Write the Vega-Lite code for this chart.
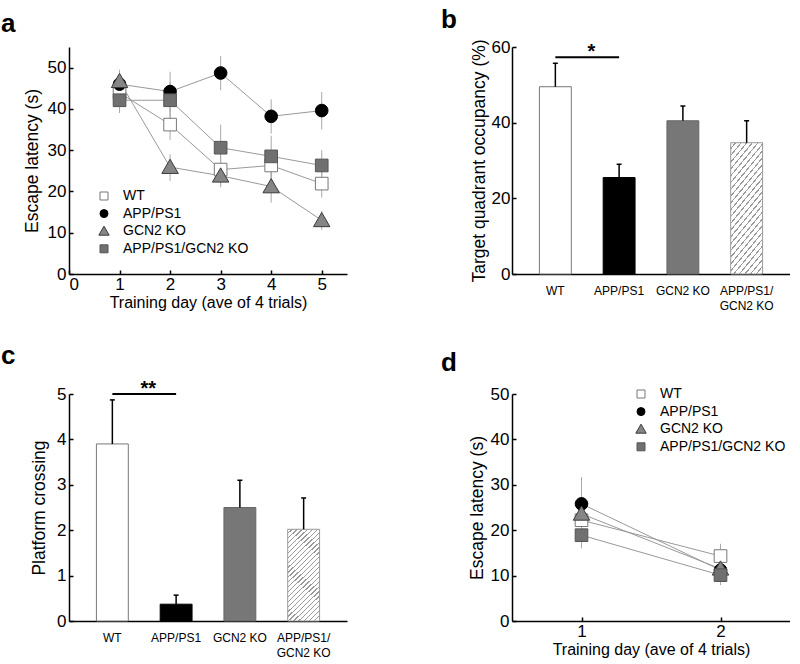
{
  "$schema": "https://vega.github.io/schema/vega-lite/v6.json",
  "padding": {"left": 1, "top": 7, "right": 0, "bottom": 0},
  "background": "white",
  "config": {
    "view": {"stroke": null},
    "font": "Liberation Sans",
    "axis": {"grid": false, "domainColor": "#000", "domainWidth": 1.5, "tickColor": "#000", "tickWidth": 1.5, "labelColor": "#000", "titleColor": "#000", "labelFont": "Liberation Sans", "titleFont": "Liberation Sans", "titleFontWeight": "normal", "labelFontSize": 17},
    "title": {"anchor": "start", "frame": "group", "fontSize": 26, "fontWeight": "bold", "color": "#000", "font": "Liberation Sans", "baseline": "alphabetic"},
    "legend": {"title": null, "labelFontWeight": "normal", "labelFont": "Liberation Sans", "labelFontSize": 14, "labelColor": "#000", "symbolSize": 64, "symbolStrokeWidth": 1, "labelOffset": 12, "rowPadding": 3.6}
  },
  "resolve": {
    "scale": {"fill": "independent", "stroke": "independent", "shape": "independent"},
    "legend": {"fill": "independent", "stroke": "independent", "shape": "independent"}
  },
  "datasets": {
    "lineA": [
      {"group": "WT", "day": 1, "latency": 43.9, "lo": 40.5, "hi": 47},
      {"group": "WT", "day": 2, "latency": 36.2, "lo": 32.5, "hi": 40},
      {"group": "WT", "day": 3, "latency": 25.3, "lo": 21.5, "hi": 29},
      {"group": "WT", "day": 4, "latency": 26.3, "lo": 22.5, "hi": 30},
      {"group": "WT", "day": 5, "latency": 21.9, "lo": 18.5, "hi": 25},
      {"group": "APP/PS1", "day": 1, "latency": 46.0, "lo": 43, "hi": 49},
      {"group": "APP/PS1", "day": 2, "latency": 44.2, "lo": 39.5, "hi": 49},
      {"group": "APP/PS1", "day": 3, "latency": 48.7, "lo": 44.5, "hi": 52.8},
      {"group": "APP/PS1", "day": 4, "latency": 38.2, "lo": 34, "hi": 42.3},
      {"group": "APP/PS1", "day": 5, "latency": 39.6, "lo": 35, "hi": 44.1},
      {"group": "GCN2 KO", "day": 1, "latency": 46.7, "lo": 44, "hi": 49.5},
      {"group": "GCN2 KO", "day": 2, "latency": 25.9, "lo": 22.5, "hi": 29},
      {"group": "GCN2 KO", "day": 3, "latency": 23.8, "lo": 21, "hi": 26.5},
      {"group": "GCN2 KO", "day": 4, "latency": 21.2, "lo": 17.3, "hi": 24.5},
      {"group": "GCN2 KO", "day": 5, "latency": 13.0, "lo": 10.7, "hi": 15.3},
      {"group": "APP/PS1/GCN2 KO", "day": 1, "latency": 42.1, "lo": 39, "hi": 45},
      {"group": "APP/PS1/GCN2 KO", "day": 2, "latency": 42.1, "lo": 37.5, "hi": 46.5},
      {"group": "APP/PS1/GCN2 KO", "day": 3, "latency": 30.6, "lo": 25, "hi": 36.2},
      {"group": "APP/PS1/GCN2 KO", "day": 4, "latency": 28.5, "lo": 23.5, "hi": 33.5},
      {"group": "APP/PS1/GCN2 KO", "day": 5, "latency": 26.3, "lo": 22.5, "hi": 30}
    ],
    "lineD": [
      {"group": "WT", "day": 1, "latency": 22.2, "lo": 18, "hi": 26.5},
      {"group": "WT", "day": 2, "latency": 14.3, "lo": 12, "hi": 17},
      {"group": "APP/PS1", "day": 1, "latency": 25.8, "lo": 20, "hi": 31.7},
      {"group": "APP/PS1", "day": 2, "latency": 11.2, "lo": 8.5, "hi": 14},
      {"group": "GCN2 KO", "day": 1, "latency": 23.6, "lo": 19.5, "hi": 28},
      {"group": "GCN2 KO", "day": 2, "latency": 11.5, "lo": 9, "hi": 14},
      {"group": "APP/PS1/GCN2 KO", "day": 1, "latency": 18.9, "lo": 16, "hi": 22},
      {"group": "APP/PS1/GCN2 KO", "day": 2, "latency": 10.1, "lo": 7.9, "hi": 12.5}
    ],
    "barB": [
      {"group": "WT", "value": 49.5, "hi": 55.7},
      {"group": "APP/PS1", "value": 25.5, "hi": 29.0},
      {"group": "GCN2 KO", "value": 40.5, "hi": 44.4},
      {"group": "APP/PS1/GCN2 KO", "value": 34.7, "hi": 40.5}
    ],
    "barC": [
      {"group": "WT", "value": 3.9, "hi": 4.87},
      {"group": "APP/PS1", "value": 0.37, "hi": 0.57},
      {"group": "GCN2 KO", "value": 2.5, "hi": 3.1},
      {"group": "APP/PS1/GCN2 KO", "value": 2.02, "hi": 2.71}
    ],
    "sigB": [{"from": "WT", "to": "APP/PS1", "y": 57.3, "label": "*"}],
    "sigC": [{"from": "WT", "to": "APP/PS1", "y": 5.0, "label": "**"}]
  },
  "columns": 2,
  "bounds": "flush",
  "spacing": {"row": 120, "column": 165},
  "concat": [
    {
      "width": 278, "height": 227,
      "title": {"text": "a", "dx": -68, "offset": 10},
      "data": {"name": "lineA"},
      "layer": [
        {
          "mark": {"type": "rule", "color": "#aaaaaa", "strokeWidth": 1},
          "encoding": {
            "x": {"field": "day", "type": "quantitative", "scale": {"domain": [0, 5.5], "nice": false},
              "axis": {"values": [0, 1, 2, 3, 4, 5], "format": "d", "tickSize": -4, "labelPadding": 6, "title": "Training day (ave of 4 trials)", "titleFontSize": 16, "titlePadding": 2}},
            "y": {"field": "lo", "type": "quantitative", "scale": {"domain": [0, 55], "nice": false},
              "axis": {"values": [0, 10, 20, 30, 40, 50], "tickSize": -4, "labelPadding": 7, "title": "Escape latency (s)", "titleFontSize": 17.5, "titlePadding": 6}},
            "y2": {"field": "hi"}
          }
        },
        {
          "mark": {"type": "line", "color": "#999999", "strokeWidth": 1},
          "encoding": {
            "x": {"field": "day", "type": "quantitative"},
            "y": {"field": "latency", "type": "quantitative"},
            "detail": {"field": "group"}
          }
        },
        {
          "mark": {"type": "point", "filled": true, "size": 160, "strokeWidth": 1, "opacity": 1},
          "encoding": {
            "x": {"field": "day", "type": "quantitative"},
            "y": {"field": "latency", "type": "quantitative"},
            "shape": {"field": "group", "type": "nominal", "scale": {"domain": ["WT", "APP/PS1", "GCN2 KO", "APP/PS1/GCN2 KO"], "range": ["square", "circle", "M0,-1.25L1.3,1L-1.3,1Z", "square"]},
              "legend": {"orient": "none", "legendX": 28, "legendY": 142}},
            "fill": {"field": "group", "type": "nominal", "scale": {"domain": ["WT", "APP/PS1", "GCN2 KO", "APP/PS1/GCN2 KO"], "range": ["#ffffff", "#000000", "#858585", "#707070"]},
              "legend": {"orient": "none", "legendX": 28, "legendY": 142}},
            "stroke": {"field": "group", "type": "nominal", "scale": {"domain": ["WT", "APP/PS1", "GCN2 KO", "APP/PS1/GCN2 KO"], "range": ["#777777", "#000000", "#3a3a3a", "#555555"]},
              "legend": {"orient": "none", "legendX": 28, "legendY": 142}}
          }
        }
      ]
    },
    {
      "width": 278, "height": 227,
      "title": {"text": "b", "dx": -71, "offset": 5},
      "layer": [
        {
          "data": {"name": "barB"},
          "transform": [{"filter": "datum.group !== 'APP/PS1/GCN2 KO'"}],
          "mark": {"type": "bar", "strokeWidth": 1},
          "encoding": {
            "x": {"field": "group", "type": "nominal", "sort": null, "scale": {"domain": ["WT", "APP/PS1", "GCN2 KO", "APP/PS1/GCN2 KO"], "paddingInner": 0.5, "paddingOuter": 0.43},
              "axis": {"title": null, "ticks": false, "labelAngle": 0, "labelFontSize": 12, "labelBaseline": "middle", "labelPadding": 16, "labelLineHeight": 15, "labelExpr": "datum.value === 'APP/PS1/GCN2 KO' ? ['APP/PS1/', 'GCN2 KO'] : datum.label"}},
            "y": {"field": "value", "type": "quantitative", "scale": {"domain": [0, 60], "nice": false},
              "axis": {"values": [0, 20, 40, 60], "tickSize": -4, "labelPadding": 6, "title": "Target quadrant occupancy (%)", "titleFontSize": 17.5, "titlePadding": 3}},
            "fill": {"field": "group", "type": "nominal", "scale": {"domain": ["WT", "APP/PS1", "GCN2 KO"], "range": ["#ffffff", "#000000", "#777777"]}, "legend": null},
            "stroke": {"field": "group", "type": "nominal", "scale": {"domain": ["WT", "APP/PS1", "GCN2 KO"], "range": ["#777777", "#000000", "#666666"]}, "legend": null}
          }
        },
        {
          "data": {"name": "barB"},
          "transform": [{"filter": "datum.group === 'APP/PS1/GCN2 KO'"}],
          "mark": {"type": "bar", "stroke": "#9a9a9a", "strokeWidth": 1,
            "color": {"gradient": "linear", "x1": 0, "y1": 0, "x2": 0.35, "y2": 1.19, "stops": [
              {"offset": 0, "color": "#ffffff"}, {"offset": 0.03, "color": "#ffffff"}, {"offset": 0.03, "color": "#9a9a9a"}, {"offset": 0.04, "color": "#9a9a9a"},
              {"offset": 0.04, "color": "#ffffff"}, {"offset": 0.07, "color": "#ffffff"}, {"offset": 0.07, "color": "#9a9a9a"}, {"offset": 0.08, "color": "#9a9a9a"},
              {"offset": 0.08, "color": "#ffffff"}, {"offset": 0.11, "color": "#ffffff"}, {"offset": 0.11, "color": "#9a9a9a"}, {"offset": 0.12, "color": "#9a9a9a"},
              {"offset": 0.12, "color": "#ffffff"}, {"offset": 0.15, "color": "#ffffff"}, {"offset": 0.15, "color": "#9a9a9a"}, {"offset": 0.16, "color": "#9a9a9a"},
              {"offset": 0.16, "color": "#ffffff"}, {"offset": 0.19, "color": "#ffffff"}, {"offset": 0.19, "color": "#9a9a9a"}, {"offset": 0.20, "color": "#9a9a9a"},
              {"offset": 0.20, "color": "#ffffff"}, {"offset": 0.23, "color": "#ffffff"}, {"offset": 0.23, "color": "#9a9a9a"}, {"offset": 0.24, "color": "#9a9a9a"},
              {"offset": 0.24, "color": "#ffffff"}, {"offset": 0.27, "color": "#ffffff"}, {"offset": 0.27, "color": "#9a9a9a"}, {"offset": 0.28, "color": "#9a9a9a"},
              {"offset": 0.28, "color": "#ffffff"}, {"offset": 0.31, "color": "#ffffff"}, {"offset": 0.31, "color": "#9a9a9a"}, {"offset": 0.32, "color": "#9a9a9a"},
              {"offset": 0.32, "color": "#ffffff"}, {"offset": 0.35, "color": "#ffffff"}, {"offset": 0.35, "color": "#9a9a9a"}, {"offset": 0.36, "color": "#9a9a9a"},
              {"offset": 0.36, "color": "#ffffff"}, {"offset": 0.39, "color": "#ffffff"}, {"offset": 0.39, "color": "#9a9a9a"}, {"offset": 0.40, "color": "#9a9a9a"},
              {"offset": 0.40, "color": "#ffffff"}, {"offset": 0.43, "color": "#ffffff"}, {"offset": 0.43, "color": "#9a9a9a"}, {"offset": 0.44, "color": "#9a9a9a"},
              {"offset": 0.44, "color": "#ffffff"}, {"offset": 0.47, "color": "#ffffff"}, {"offset": 0.47, "color": "#9a9a9a"}, {"offset": 0.48, "color": "#9a9a9a"},
              {"offset": 0.48, "color": "#ffffff"}, {"offset": 0.51, "color": "#ffffff"}, {"offset": 0.51, "color": "#9a9a9a"}, {"offset": 0.52, "color": "#9a9a9a"},
              {"offset": 0.52, "color": "#ffffff"}, {"offset": 0.55, "color": "#ffffff"}, {"offset": 0.55, "color": "#9a9a9a"}, {"offset": 0.56, "color": "#9a9a9a"},
              {"offset": 0.56, "color": "#ffffff"}, {"offset": 0.59, "color": "#ffffff"}, {"offset": 0.59, "color": "#9a9a9a"}, {"offset": 0.60, "color": "#9a9a9a"},
              {"offset": 0.60, "color": "#ffffff"}, {"offset": 0.63, "color": "#ffffff"}, {"offset": 0.63, "color": "#9a9a9a"}, {"offset": 0.64, "color": "#9a9a9a"},
              {"offset": 0.64, "color": "#ffffff"}, {"offset": 0.67, "color": "#ffffff"}, {"offset": 0.67, "color": "#9a9a9a"}, {"offset": 0.68, "color": "#9a9a9a"},
              {"offset": 0.68, "color": "#ffffff"}, {"offset": 0.71, "color": "#ffffff"}, {"offset": 0.71, "color": "#9a9a9a"}, {"offset": 0.72, "color": "#9a9a9a"},
              {"offset": 0.72, "color": "#ffffff"}, {"offset": 0.75, "color": "#ffffff"}, {"offset": 0.75, "color": "#9a9a9a"}, {"offset": 0.76, "color": "#9a9a9a"},
              {"offset": 0.76, "color": "#ffffff"}, {"offset": 0.79, "color": "#ffffff"}, {"offset": 0.79, "color": "#9a9a9a"}, {"offset": 0.80, "color": "#9a9a9a"},
              {"offset": 0.80, "color": "#ffffff"}, {"offset": 0.83, "color": "#ffffff"}, {"offset": 0.83, "color": "#9a9a9a"}, {"offset": 0.84, "color": "#9a9a9a"},
              {"offset": 0.84, "color": "#ffffff"}, {"offset": 0.87, "color": "#ffffff"}, {"offset": 0.87, "color": "#9a9a9a"}, {"offset": 0.88, "color": "#9a9a9a"},
              {"offset": 0.88, "color": "#ffffff"}, {"offset": 0.91, "color": "#ffffff"}, {"offset": 0.91, "color": "#9a9a9a"}, {"offset": 0.92, "color": "#9a9a9a"},
              {"offset": 0.92, "color": "#ffffff"}, {"offset": 0.95, "color": "#ffffff"}, {"offset": 0.95, "color": "#9a9a9a"}, {"offset": 0.96, "color": "#9a9a9a"},
              {"offset": 0.96, "color": "#ffffff"}, {"offset": 0.99, "color": "#ffffff"}, {"offset": 0.99, "color": "#9a9a9a"}, {"offset": 1, "color": "#9a9a9a"}
            ]}},
          "encoding": {
            "x": {"field": "group", "type": "nominal", "sort": null},
            "y": {"field": "value", "type": "quantitative"}
          }
        },
        {
          "data": {"name": "barB"},
          "mark": {"type": "rule", "color": "#000000", "strokeWidth": 1.5},
          "encoding": {
            "x": {"field": "group", "type": "nominal", "sort": null},
            "y": {"field": "value", "type": "quantitative"},
            "y2": {"field": "hi"}
          }
        },
        {
          "data": {"name": "barB"},
          "mark": {"type": "tick", "color": "#000000", "thickness": 1.5, "size": 5, "opacity": 1},
          "encoding": {
            "x": {"field": "group", "type": "nominal", "sort": null},
            "y": {"field": "hi", "type": "quantitative"}
          }
        },
        {
          "data": {"name": "sigB"},
          "mark": {"type": "rule", "color": "#000000", "strokeWidth": 2},
          "encoding": {
            "x": {"field": "from", "type": "nominal"},
            "x2": {"field": "to"},
            "y": {"field": "y", "type": "quantitative"}
          }
        },
        {
          "data": {"name": "sigB"},
          "mark": {"type": "text", "fontSize": 20, "fontWeight": "bold", "dx": 36, "dy": 1, "baseline": "alphabetic", "color": "#000000"},
          "encoding": {
            "x": {"field": "from", "type": "nominal"},
            "y": {"field": "y", "type": "quantitative"},
            "text": {"field": "label"}
          }
        }
      ]
    },
    {
      "width": 278, "height": 227,
      "title": {"text": "c", "dx": -68, "offset": 10},
      "layer": [
        {
          "data": {"name": "barC"},
          "transform": [{"filter": "datum.group !== 'APP/PS1/GCN2 KO'"}],
          "mark": {"type": "bar", "strokeWidth": 1},
          "encoding": {
            "x": {"field": "group", "type": "nominal", "sort": null, "scale": {"domain": ["WT", "APP/PS1", "GCN2 KO", "APP/PS1/GCN2 KO"], "paddingInner": 0.5, "paddingOuter": 0.43},
              "axis": {"title": null, "ticks": false, "labelAngle": 0, "labelFontSize": 12, "labelBaseline": "middle", "labelPadding": 16, "labelLineHeight": 15, "labelExpr": "datum.value === 'APP/PS1/GCN2 KO' ? ['APP/PS1/', 'GCN2 KO'] : datum.label"}},
            "y": {"field": "value", "type": "quantitative", "scale": {"domain": [0, 5], "nice": false},
              "axis": {"values": [0, 1, 2, 3, 4, 5], "tickSize": -4, "labelPadding": 7, "title": "Platform crossing", "titleFontSize": 17.5, "titlePadding": 8}},
            "fill": {"field": "group", "type": "nominal", "scale": {"domain": ["WT", "APP/PS1", "GCN2 KO"], "range": ["#ffffff", "#000000", "#777777"]}, "legend": null},
            "stroke": {"field": "group", "type": "nominal", "scale": {"domain": ["WT", "APP/PS1", "GCN2 KO"], "range": ["#777777", "#000000", "#666666"]}, "legend": null}
          }
        },
        {
          "data": {"name": "barC"},
          "transform": [{"filter": "datum.group === 'APP/PS1/GCN2 KO'"}],
          "mark": {"type": "bar", "stroke": "#9a9a9a", "strokeWidth": 1,
            "color": {"gradient": "linear", "x1": 0, "y1": 0, "x2": 0.4, "y2": 1.2, "stops": [
              {"offset": 0, "color": "#ffffff"}, {"offset": 0.03, "color": "#ffffff"}, {"offset": 0.03, "color": "#9a9a9a"}, {"offset": 0.04, "color": "#9a9a9a"},
              {"offset": 0.04, "color": "#ffffff"}, {"offset": 0.07, "color": "#ffffff"}, {"offset": 0.07, "color": "#9a9a9a"}, {"offset": 0.08, "color": "#9a9a9a"},
              {"offset": 0.08, "color": "#ffffff"}, {"offset": 0.11, "color": "#ffffff"}, {"offset": 0.11, "color": "#9a9a9a"}, {"offset": 0.12, "color": "#9a9a9a"},
              {"offset": 0.12, "color": "#ffffff"}, {"offset": 0.15, "color": "#ffffff"}, {"offset": 0.15, "color": "#9a9a9a"}, {"offset": 0.16, "color": "#9a9a9a"},
              {"offset": 0.16, "color": "#ffffff"}, {"offset": 0.19, "color": "#ffffff"}, {"offset": 0.19, "color": "#9a9a9a"}, {"offset": 0.20, "color": "#9a9a9a"},
              {"offset": 0.20, "color": "#ffffff"}, {"offset": 0.23, "color": "#ffffff"}, {"offset": 0.23, "color": "#9a9a9a"}, {"offset": 0.24, "color": "#9a9a9a"},
              {"offset": 0.24, "color": "#ffffff"}, {"offset": 0.27, "color": "#ffffff"}, {"offset": 0.27, "color": "#9a9a9a"}, {"offset": 0.28, "color": "#9a9a9a"},
              {"offset": 0.28, "color": "#ffffff"}, {"offset": 0.31, "color": "#ffffff"}, {"offset": 0.31, "color": "#9a9a9a"}, {"offset": 0.32, "color": "#9a9a9a"},
              {"offset": 0.32, "color": "#ffffff"}, {"offset": 0.35, "color": "#ffffff"}, {"offset": 0.35, "color": "#9a9a9a"}, {"offset": 0.36, "color": "#9a9a9a"},
              {"offset": 0.36, "color": "#ffffff"}, {"offset": 0.39, "color": "#ffffff"}, {"offset": 0.39, "color": "#9a9a9a"}, {"offset": 0.40, "color": "#9a9a9a"},
              {"offset": 0.40, "color": "#ffffff"}, {"offset": 0.43, "color": "#ffffff"}, {"offset": 0.43, "color": "#9a9a9a"}, {"offset": 0.44, "color": "#9a9a9a"},
              {"offset": 0.44, "color": "#ffffff"}, {"offset": 0.47, "color": "#ffffff"}, {"offset": 0.47, "color": "#9a9a9a"}, {"offset": 0.48, "color": "#9a9a9a"},
              {"offset": 0.48, "color": "#ffffff"}, {"offset": 0.51, "color": "#ffffff"}, {"offset": 0.51, "color": "#9a9a9a"}, {"offset": 0.52, "color": "#9a9a9a"},
              {"offset": 0.52, "color": "#ffffff"}, {"offset": 0.55, "color": "#ffffff"}, {"offset": 0.55, "color": "#9a9a9a"}, {"offset": 0.56, "color": "#9a9a9a"},
              {"offset": 0.56, "color": "#ffffff"}, {"offset": 0.59, "color": "#ffffff"}, {"offset": 0.59, "color": "#9a9a9a"}, {"offset": 0.60, "color": "#9a9a9a"},
              {"offset": 0.60, "color": "#ffffff"}, {"offset": 0.63, "color": "#ffffff"}, {"offset": 0.63, "color": "#9a9a9a"}, {"offset": 0.64, "color": "#9a9a9a"},
              {"offset": 0.64, "color": "#ffffff"}, {"offset": 0.67, "color": "#ffffff"}, {"offset": 0.67, "color": "#9a9a9a"}, {"offset": 0.68, "color": "#9a9a9a"},
              {"offset": 0.68, "color": "#ffffff"}, {"offset": 0.71, "color": "#ffffff"}, {"offset": 0.71, "color": "#9a9a9a"}, {"offset": 0.72, "color": "#9a9a9a"},
              {"offset": 0.72, "color": "#ffffff"}, {"offset": 0.75, "color": "#ffffff"}, {"offset": 0.75, "color": "#9a9a9a"}, {"offset": 0.76, "color": "#9a9a9a"},
              {"offset": 0.76, "color": "#ffffff"}, {"offset": 0.79, "color": "#ffffff"}, {"offset": 0.79, "color": "#9a9a9a"}, {"offset": 0.80, "color": "#9a9a9a"},
              {"offset": 0.80, "color": "#ffffff"}, {"offset": 0.83, "color": "#ffffff"}, {"offset": 0.83, "color": "#9a9a9a"}, {"offset": 0.84, "color": "#9a9a9a"},
              {"offset": 0.84, "color": "#ffffff"}, {"offset": 0.87, "color": "#ffffff"}, {"offset": 0.87, "color": "#9a9a9a"}, {"offset": 0.88, "color": "#9a9a9a"},
              {"offset": 0.88, "color": "#ffffff"}, {"offset": 0.91, "color": "#ffffff"}, {"offset": 0.91, "color": "#9a9a9a"}, {"offset": 0.92, "color": "#9a9a9a"},
              {"offset": 0.92, "color": "#ffffff"}, {"offset": 0.95, "color": "#ffffff"}, {"offset": 0.95, "color": "#9a9a9a"}, {"offset": 0.96, "color": "#9a9a9a"},
              {"offset": 0.96, "color": "#ffffff"}, {"offset": 0.99, "color": "#ffffff"}, {"offset": 0.99, "color": "#9a9a9a"}, {"offset": 1, "color": "#9a9a9a"}
            ]}},
          "encoding": {
            "x": {"field": "group", "type": "nominal", "sort": null},
            "y": {"field": "value", "type": "quantitative"}
          }
        },
        {
          "data": {"name": "barC"},
          "mark": {"type": "rule", "color": "#000000", "strokeWidth": 1.5},
          "encoding": {
            "x": {"field": "group", "type": "nominal", "sort": null},
            "y": {"field": "value", "type": "quantitative"},
            "y2": {"field": "hi"}
          }
        },
        {
          "data": {"name": "barC"},
          "mark": {"type": "tick", "color": "#000000", "thickness": 1.5, "size": 5, "opacity": 1},
          "encoding": {
            "x": {"field": "group", "type": "nominal", "sort": null},
            "y": {"field": "hi", "type": "quantitative"}
          }
        },
        {
          "data": {"name": "sigC"},
          "mark": {"type": "rule", "color": "#000000", "strokeWidth": 2},
          "encoding": {
            "x": {"field": "from", "type": "nominal"},
            "x2": {"field": "to"},
            "y": {"field": "y", "type": "quantitative"}
          }
        },
        {
          "data": {"name": "sigC"},
          "mark": {"type": "text", "fontSize": 20, "fontWeight": "bold", "dx": 36, "dy": 1, "baseline": "alphabetic", "color": "#000000"},
          "encoding": {
            "x": {"field": "from", "type": "nominal"},
            "y": {"field": "y", "type": "quantitative"},
            "text": {"field": "label"}
          }
        }
      ]
    },
    {
      "width": 278, "height": 227,
      "title": {"text": "d", "dx": -71, "offset": 9},
      "data": {"name": "lineD"},
      "layer": [
        {
          "mark": {"type": "rule", "color": "#aaaaaa", "strokeWidth": 1},
          "encoding": {
            "x": {"field": "day", "type": "quantitative", "scale": {"domain": [0.5, 2.5], "nice": false},
              "axis": {"values": [1, 2], "format": "d", "tickSize": -4, "labelPadding": 6, "title": "Training day (ave of 4 trials)", "titleFontSize": 16, "titlePadding": 2}},
            "y": {"field": "lo", "type": "quantitative", "scale": {"domain": [0, 50], "nice": false},
              "axis": {"values": [0, 10, 20, 30, 40, 50], "tickSize": -4, "labelPadding": 7, "title": "Escape latency (s)", "titleFontSize": 17.5, "titlePadding": 4}},
            "y2": {"field": "hi"}
          }
        },
        {
          "mark": {"type": "line", "color": "#999999", "strokeWidth": 1},
          "encoding": {
            "x": {"field": "day", "type": "quantitative"},
            "y": {"field": "latency", "type": "quantitative"},
            "detail": {"field": "group"}
          }
        },
        {
          "mark": {"type": "point", "filled": true, "size": 160, "strokeWidth": 1, "opacity": 1},
          "encoding": {
            "x": {"field": "day", "type": "quantitative"},
            "y": {"field": "latency", "type": "quantitative"},
            "shape": {"field": "group", "type": "nominal", "scale": {"domain": ["WT", "APP/PS1", "GCN2 KO", "APP/PS1/GCN2 KO"], "range": ["square", "circle", "M0,-1.25L1.3,1L-1.3,1Z", "square"]},
              "legend": {"orient": "none", "legendX": 122, "legendY": -7}},
            "fill": {"field": "group", "type": "nominal", "scale": {"domain": ["WT", "APP/PS1", "GCN2 KO", "APP/PS1/GCN2 KO"], "range": ["#ffffff", "#000000", "#858585", "#707070"]},
              "legend": {"orient": "none", "legendX": 122, "legendY": -7}},
            "stroke": {"field": "group", "type": "nominal", "scale": {"domain": ["WT", "APP/PS1", "GCN2 KO", "APP/PS1/GCN2 KO"], "range": ["#777777", "#000000", "#3a3a3a", "#555555"]},
              "legend": {"orient": "none", "legendX": 122, "legendY": -7}}
          }
        }
      ]
    }
  ]
}
